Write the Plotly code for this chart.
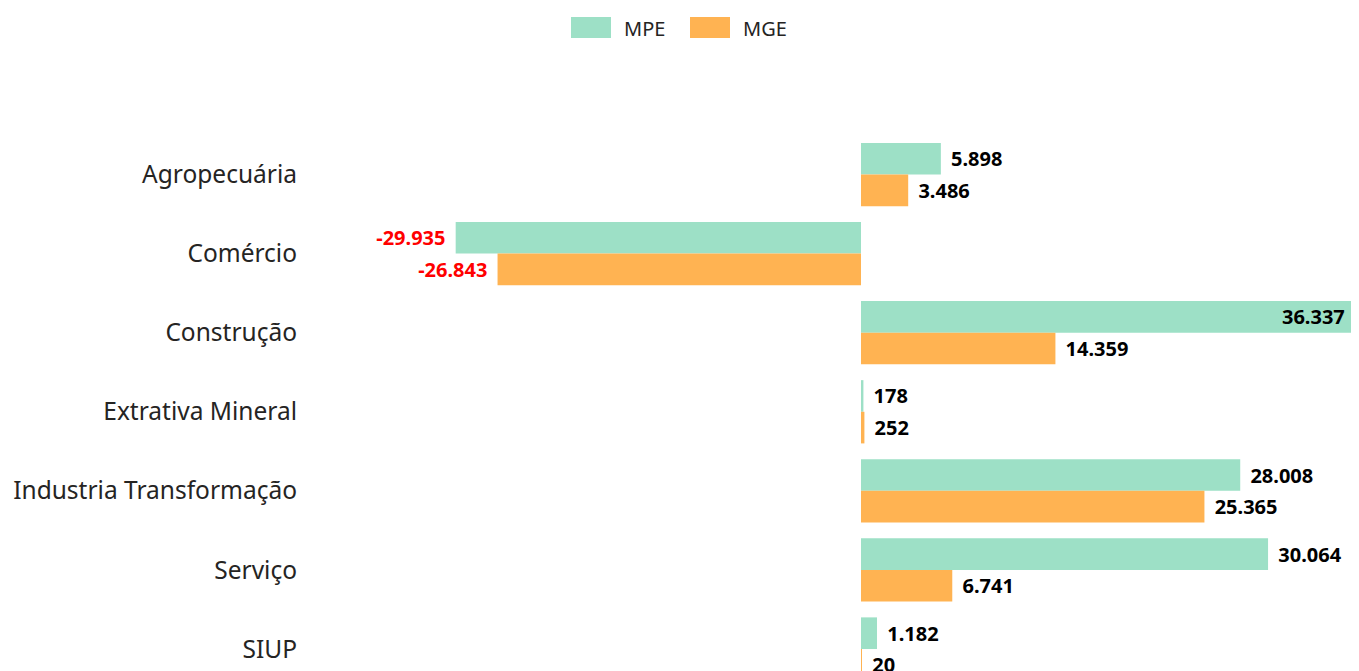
import plotly.graph_objects as go

categories = ["Agropecuária", "Comércio", "Construção", "Extrativa Mineral",
              "Industria Transformação", "Serviço", "SIUP"]
mpe = [5898, -29935, 36337, 178, 28008, 30064, 1182]
mge = [3486, -26843, 14359, 252, 25365, 6741, 20]
series_names = ["MPE", "MGE"]
colors = ["#9DE0C6", "#FFB352"]

NB = "\u00a0"
HS = "\u200a"


def fmt(v):
    s = f"{abs(v):,}".replace(",", ".")
    return ("-" + s) if v < 0 else s


def labels(vals):
    vmax = max(mpe + mge)
    out, pos, col = [], [], []
    for v in vals:
        if v == vmax:
            out.append(fmt(v) + NB)
            pos.append("inside")
        elif v < 0:
            out.append(fmt(v) + HS + NB)
            pos.append("outside")
        else:
            out.append(NB + HS + fmt(v))
            pos.append("outside")
        col.append("#FF0000" if v < 0 else "#000000")
    return out, pos, col


fig = go.Figure()
for name, vals, c in zip(series_names, [mpe, mge], colors):
    t, p, tc = labels(vals)
    fig.add_trace(go.Bar(
        name=name, y=categories, x=vals, orientation="h",
        marker=dict(color=c, line=dict(width=0)),
        text=t, textposition=p, insidetextanchor="end",
        textfont=dict(family="Noto Sans", size=20, color=tc, weight="bold"),
        constraintext="none", cliponaxis=True, showlegend=False,
        hoverinfo="skip",
    ))

# page body has an 8px offset; figure coordinates below account for it
OFF = 8
W, H = 1351, 663
L, R, T, B = 308 - OFF, 6 - OFF + 8, 135 - OFF, 0
pw, ph = W - L - R, H - T - B


def px(x):
    return (x - OFF - L) / pw


def py(y):
    return (H - B - (y - OFF)) / ph


shapes = []
annotations = []
legend_items = [(571, 611, 622), (690, 730, 741)]
for (x0, x1, tx), name, c in zip(legend_items, series_names, colors):
    shapes.append(dict(type="rect", xref="paper", yref="paper",
                       x0=px(x0), x1=px(x1), y0=py(38), y1=py(17),
                       fillcolor=c, line=dict(width=0)))
    annotations.append(dict(xref="paper", yref="paper", x=px(tx), y=py(28),
                            text=name, showarrow=False, xanchor="left",
                            yanchor="middle",
                            font=dict(family="Noto Sans", size=20, color="#252423")))

fig.update_layout(
    width=W, height=H,
    margin=dict(l=L, r=R, t=T, b=B, pad=0),
    paper_bgcolor="white", plot_bgcolor="white",
    barmode="group", bargap=0.2, bargroupgap=0,
    shapes=shapes, annotations=annotations,
    showlegend=False,
    xaxis=dict(range=[-40842, 36337], visible=False, fixedrange=True),
    yaxis=dict(categoryorder="array", categoryarray=categories,
               range=[6.278, -0.5], showgrid=False, zeroline=False,
               showline=False, ticks="", automargin=False,
               ticklabelstandoff=10,
               tickfont=dict(family="Noto Sans", size=24.5, color="#252423")),
)

fig.write_html("out.html")
